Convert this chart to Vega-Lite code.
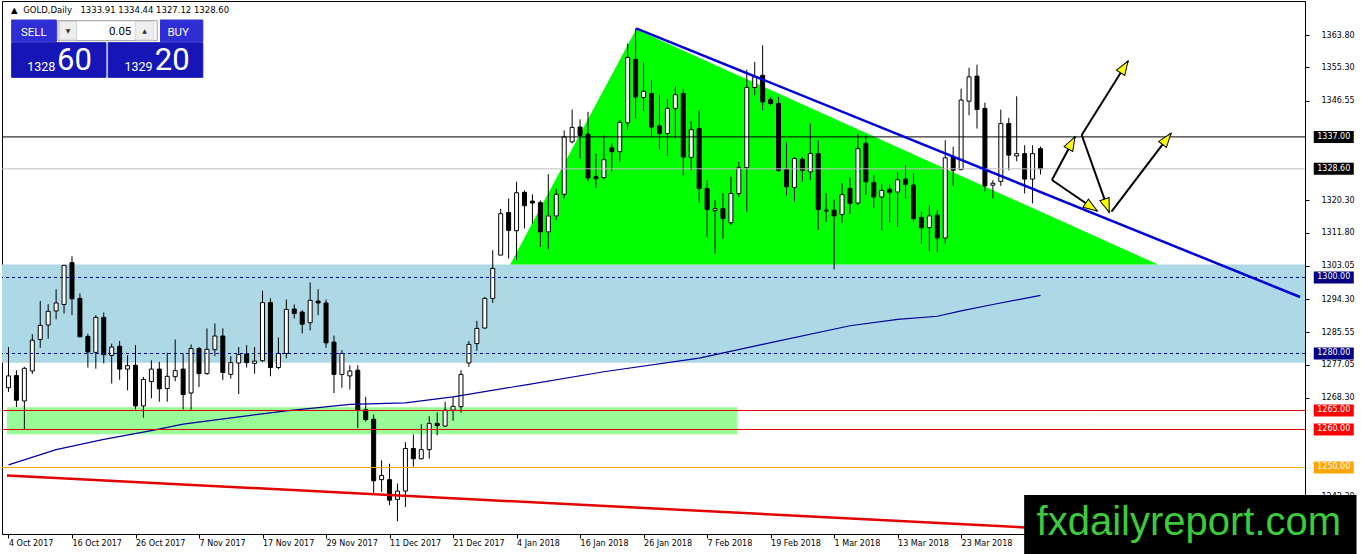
{
"$schema":"https://vega.github.io/schema/vega-lite/v6.json",
"width":1303,"height":533,
"autosize":"none",
"padding":{"left":2,"top":1,"right":57,"bottom":20},
"background":"white",
"config":{"view":{"stroke":"black","strokeWidth":1},"axis":{"domainColor":"black","tickColor":"black","labelColor":"black","labelFont":"DejaVu Sans","labelFontSize":8,"grid":false}},
"resolve":{"scale":{"color":"independent","stroke":"independent","strokeDash":"independent"}},
"datasets":{
"candles":[
{"bar":0,"open":1271.0,"high":1281.7,"low":1269.9,"close":1274.1},
{"bar":1,"open":1274.2,"high":1275.6,"low":1265.9,"close":1267.7},
{"bar":2,"open":1267.5,"high":1276.5,"low":1260.0,"close":1276.1},
{"bar":3,"open":1275.4,"high":1285.1,"low":1274.6,"close":1283.5},
{"bar":4,"open":1283.7,"high":1293.8,"low":1281.5,"close":1287.4},
{"bar":5,"open":1287.5,"high":1293.0,"low":1283.9,"close":1291.1},
{"bar":6,"open":1291.2,"high":1296.9,"low":1289.0,"close":1293.3},
{"bar":7,"open":1292.9,"high":1303.3,"low":1290.5,"close":1303.2},
{"bar":8,"open":1303.9,"high":1305.6,"low":1290.1,"close":1294.4},
{"bar":9,"open":1294.5,"high":1295.8,"low":1284.2,"close":1284.4},
{"bar":10,"open":1284.5,"high":1285.2,"low":1276.3,"close":1280.4},
{"bar":11,"open":1280.3,"high":1290.1,"low":1276.0,"close":1289.5},
{"bar":12,"open":1289.5,"high":1290.8,"low":1277.4,"close":1279.7},
{"bar":13,"open":1279.5,"high":1282.6,"low":1272.1,"close":1281.7},
{"bar":14,"open":1281.9,"high":1283.3,"low":1273.1,"close":1275.9},
{"bar":15,"open":1275.9,"high":1279.5,"low":1270.3,"close":1276.8},
{"bar":16,"open":1276.9,"high":1282.2,"low":1265.3,"close":1266.2},
{"bar":17,"open":1266.2,"high":1273.8,"low":1263.1,"close":1273.2},
{"bar":18,"open":1272.6,"high":1278.2,"low":1268.2,"close":1275.9},
{"bar":19,"open":1275.9,"high":1277.8,"low":1267.3,"close":1270.7},
{"bar":20,"open":1270.8,"high":1280.2,"low":1267.3,"close":1274.0},
{"bar":21,"open":1273.9,"high":1283.7,"low":1272.7,"close":1275.5},
{"bar":22,"open":1275.9,"high":1280.0,"low":1265.3,"close":1269.2},
{"bar":23,"open":1269.6,"high":1282.4,"low":1265.2,"close":1281.3},
{"bar":24,"open":1281.3,"high":1281.7,"low":1271.2,"close":1274.7},
{"bar":25,"open":1274.7,"high":1286.6,"low":1274.4,"close":1281.1},
{"bar":26,"open":1281.0,"high":1287.9,"low":1279.3,"close":1284.6},
{"bar":27,"open":1284.6,"high":1286.6,"low":1273.0,"close":1275.0},
{"bar":28,"open":1274.5,"high":1279.3,"low":1273.4,"close":1277.6},
{"bar":29,"open":1277.5,"high":1281.7,"low":1269.3,"close":1279.7},
{"bar":30,"open":1279.9,"high":1282.2,"low":1276.3,"close":1277.6},
{"bar":31,"open":1277.4,"high":1281.7,"low":1274.7,"close":1278.0},
{"bar":32,"open":1278.1,"high":1296.5,"low":1277.8,"close":1293.4},
{"bar":33,"open":1293.4,"high":1294.5,"low":1274.0,"close":1276.3},
{"bar":34,"open":1276.3,"high":1284.2,"low":1275.9,"close":1280.0},
{"bar":35,"open":1280.0,"high":1294.2,"low":1278.7,"close":1291.6},
{"bar":36,"open":1291.7,"high":1292.9,"low":1289.2,"close":1290.5},
{"bar":37,"open":1290.9,"high":1291.4,"low":1285.3,"close":1287.7},
{"bar":38,"open":1288.1,"high":1298.7,"low":1286.1,"close":1294.0},
{"bar":39,"open":1293.8,"high":1296.9,"low":1290.1,"close":1293.3},
{"bar":40,"open":1293.3,"high":1294.2,"low":1281.5,"close":1282.8},
{"bar":41,"open":1283.0,"high":1284.7,"low":1269.6,"close":1274.5},
{"bar":42,"open":1274.5,"high":1280.9,"low":1271.0,"close":1280.0},
{"bar":43,"open":1274.1,"high":1276.9,"low":1270.5,"close":1275.4},
{"bar":44,"open":1275.6,"high":1276.9,"low":1260.4,"close":1265.1},
{"bar":45,"open":1265.2,"high":1268.6,"low":1262.1,"close":1262.6},
{"bar":46,"open":1262.7,"high":1263.9,"low":1243.1,"close":1246.5},
{"bar":47,"open":1246.8,"high":1251.9,"low":1243.6,"close":1247.9},
{"bar":48,"open":1246.8,"high":1251.0,"low":1240.1,"close":1241.4},
{"bar":49,"open":1241.6,"high":1245.8,"low":1235.9,"close":1243.8},
{"bar":50,"open":1243.8,"high":1256.7,"low":1239.6,"close":1255.0},
{"bar":51,"open":1255.0,"high":1258.7,"low":1250.2,"close":1252.3},
{"bar":52,"open":1252.3,"high":1261.4,"low":1252.1,"close":1254.7},
{"bar":53,"open":1254.7,"high":1263.5,"low":1252.3,"close":1261.6},
{"bar":54,"open":1261.6,"high":1264.5,"low":1258.5,"close":1261.0},
{"bar":55,"open":1260.9,"high":1267.3,"low":1260.7,"close":1265.1},
{"bar":56,"open":1265.1,"high":1268.6,"low":1262.3,"close":1266.1},
{"bar":57,"open":1266.0,"high":1275.6,"low":1264.4,"close":1274.5},
{"bar":58,"open":1277.5,"high":1283.3,"low":1276.5,"close":1282.4},
{"bar":59,"open":1282.6,"high":1288.6,"low":1280.7,"close":1286.6},
{"bar":60,"open":1286.7,"high":1294.9,"low":1286.6,"close":1294.5},
{"bar":61,"open":1294.5,"high":1307.2,"low":1293.3,"close":1302.4},
{"bar":62,"open":1305.9,"high":1318.1,"low":1305.9,"close":1316.8},
{"bar":63,"open":1317.1,"high":1320.8,"low":1305.0,"close":1312.4},
{"bar":64,"open":1312.3,"high":1325.2,"low":1304.6,"close":1322.3},
{"bar":65,"open":1322.4,"high":1322.9,"low":1312.9,"close":1318.9},
{"bar":66,"open":1320.1,"high":1321.9,"low":1314.2,"close":1319.6},
{"bar":67,"open":1319.7,"high":1320.3,"low":1308.1,"close":1312.0},
{"bar":68,"open":1312.0,"high":1327.2,"low":1307.4,"close":1316.2},
{"bar":69,"open":1316.2,"high":1323.4,"low":1315.1,"close":1321.9},
{"bar":70,"open":1321.9,"high":1338.7,"low":1320.8,"close":1337.0},
{"bar":71,"open":1335.7,"high":1344.2,"low":1335.3,"close":1339.5},
{"bar":72,"open":1339.6,"high":1341.6,"low":1331.3,"close":1337.4},
{"bar":73,"open":1337.7,"high":1343.6,"low":1325.3,"close":1326.2},
{"bar":74,"open":1326.5,"high":1332.6,"low":1323.6,"close":1326.0},
{"bar":75,"open":1326.3,"high":1337.4,"low":1325.8,"close":1331.0},
{"bar":76,"open":1334.1,"high":1335.3,"low":1327.8,"close":1333.1},
{"bar":77,"open":1333.1,"high":1341.4,"low":1330.4,"close":1340.8},
{"bar":78,"open":1340.7,"high":1361.6,"low":1338.8,"close":1357.9},
{"bar":79,"open":1357.4,"high":1365.5,"low":1341.8,"close":1347.5},
{"bar":80,"open":1347.4,"high":1356.7,"low":1343.9,"close":1349.0},
{"bar":81,"open":1348.4,"high":1351.9,"low":1337.0,"close":1339.6},
{"bar":82,"open":1339.9,"high":1348.2,"low":1333.7,"close":1337.9},
{"bar":83,"open":1337.9,"high":1346.9,"low":1332.0,"close":1344.5},
{"bar":84,"open":1344.5,"high":1350.3,"low":1336.6,"close":1348.1},
{"bar":85,"open":1348.4,"high":1349.5,"low":1326.9,"close":1331.7},
{"bar":86,"open":1331.6,"high":1341.1,"low":1328.2,"close":1338.9},
{"bar":87,"open":1339.2,"high":1344.0,"low":1319.7,"close":1323.4},
{"bar":88,"open":1323.4,"high":1325.6,"low":1310.7,"close":1317.9},
{"bar":89,"open":1317.6,"high":1320.3,"low":1306.3,"close":1318.1},
{"bar":90,"open":1318.1,"high":1322.1,"low":1310.2,"close":1315.5},
{"bar":91,"open":1314.4,"high":1326.5,"low":1313.8,"close":1322.1},
{"bar":92,"open":1322.1,"high":1330.4,"low":1321.2,"close":1328.9},
{"bar":93,"open":1328.9,"high":1354.7,"low":1317.3,"close":1350.0},
{"bar":94,"open":1350.0,"high":1356.7,"low":1348.0,"close":1352.8},
{"bar":95,"open":1353.2,"high":1361.1,"low":1344.0,"close":1346.2},
{"bar":96,"open":1346.8,"high":1347.5,"low":1345.2,"close":1345.8},
{"bar":97,"open":1345.8,"high":1347.5,"low":1327.8,"close":1328.2},
{"bar":98,"open":1328.4,"high":1335.7,"low":1321.6,"close":1323.9},
{"bar":99,"open":1323.7,"high":1331.7,"low":1319.9,"close":1331.3},
{"bar":100,"open":1331.1,"high":1331.7,"low":1325.2,"close":1328.2},
{"bar":101,"open":1327.8,"high":1340.5,"low":1325.6,"close":1332.6},
{"bar":102,"open":1332.6,"high":1336.1,"low":1312.6,"close":1317.9},
{"bar":103,"open":1317.7,"high":1322.1,"low":1314.6,"close":1317.5},
{"bar":104,"open":1317.7,"high":1320.5,"low":1302.1,"close":1316.2},
{"bar":105,"open":1316.6,"high":1324.9,"low":1314.4,"close":1321.8},
{"bar":106,"open":1323.4,"high":1326.3,"low":1316.8,"close":1319.5},
{"bar":107,"open":1319.6,"high":1337.9,"low":1319.0,"close":1333.9},
{"bar":108,"open":1335.3,"high":1337.4,"low":1321.7,"close":1325.2},
{"bar":109,"open":1325.0,"high":1326.9,"low":1318.3,"close":1321.2},
{"bar":110,"open":1321.2,"high":1324.5,"low":1312.4,"close":1322.9},
{"bar":111,"open":1323.2,"high":1324.5,"low":1314.5,"close":1322.4},
{"bar":112,"open":1322.5,"high":1327.8,"low":1313.3,"close":1325.7},
{"bar":113,"open":1325.9,"high":1329.6,"low":1320.8,"close":1324.5},
{"bar":114,"open":1324.3,"high":1327.4,"low":1314.6,"close":1315.5},
{"bar":115,"open":1315.8,"high":1317.3,"low":1308.9,"close":1313.1},
{"bar":116,"open":1313.1,"high":1319.0,"low":1306.9,"close":1316.2},
{"bar":117,"open":1316.4,"high":1317.7,"low":1306.6,"close":1310.4},
{"bar":118,"open":1310.4,"high":1336.1,"low":1308.9,"close":1331.5},
{"bar":119,"open":1331.7,"high":1334.4,"low":1324.1,"close":1328.2},
{"bar":120,"open":1328.4,"high":1349.7,"low":1328.2,"close":1346.7},
{"bar":121,"open":1346.4,"high":1355.2,"low":1342.7,"close":1352.8},
{"bar":122,"open":1353.0,"high":1356.0,"low":1339.2,"close":1344.2},
{"bar":123,"open":1344.5,"high":1346.0,"low":1322.7,"close":1324.1},
{"bar":124,"open":1324.3,"high":1325.6,"low":1320.8,"close":1324.8},
{"bar":125,"open":1325.3,"high":1344.2,"low":1324.1,"close":1340.5},
{"bar":126,"open":1340.5,"high":1342.0,"low":1328.2,"close":1332.2},
{"bar":127,"open":1332.0,"high":1347.7,"low":1330.6,"close":1332.6},
{"bar":128,"open":1332.6,"high":1334.8,"low":1322.1,"close":1325.9},
{"bar":129,"open":1325.9,"high":1334.8,"low":1319.5,"close":1332.6},
{"bar":130,"open":1333.91,"high":1334.44,"low":1327.12,"close":1328.60}
],
"ma":[{"bar":0,"ma":1250.7},{"bar":6,"ma":1254.7},{"bar":12,"ma":1257.4},{"bar":18,"ma":1259.7},{"bar":22,"ma":1261.4},{"bar":30,"ma":1263.6},{"bar":35,"ma":1264.9},{"bar":43,"ma":1266.6},{"bar":50,"ma":1267.0},{"bar":56,"ma":1268.6},{"bar":65,"ma":1271.7},{"bar":75,"ma":1275.2},{"bar":87,"ma":1278.8},{"bar":95,"ma":1282.4},{"bar":106,"ma":1287.3},{"bar":112,"ma":1289.0},{"bar":117,"ma":1289.8},{"bar":120,"ma":1291.2},{"bar":124,"ma":1292.9},{"bar":130,"ma":1295.3}],
"triangle":[{"bar":63.19,"price":1303.42,"base":1303.42},{"bar":79.06,"price":1365.32,"base":1303.42},{"bar":144.81,"price":1303.42,"base":1303.42}],
"blue_zone":[{"top":1303.42,"bottom":1277.58}],
"green_zone":[{"from_bar":-0.1875,"to_bar":91.81,"top":1265.84,"bottom":1258.74}],
"levels":[{"price":1337.0,"kind":"target"},{"price":1328.6,"kind":"bid"},{"price":1300.0,"kind":"zone"},{"price":1280.0,"kind":"zone"},{"price":1265.0,"kind":"support"},{"price":1260.0,"kind":"support"},{"price":1250.0,"kind":"round"}],
"trend_blue":[{"bar":79.06,"price":1365.58},{"bar":162.69,"price":1294.87}],
"trend_red":[{"bar":-0.1875,"price":1247.9},{"bar":144.31,"price":1232.5}],
"arrows":[
{"arrow":"A","from_bar":131.44,"from_price":1325.66,"to_bar":134.35,"to_price":1337.05},
{"arrow":"B","from_bar":131.44,"from_price":1325.66,"to_bar":137.15,"to_price":1317.5},
{"arrow":"C","from_bar":135.19,"from_price":1337.5,"to_bar":141.03,"to_price":1356.97},
{"arrow":"D","from_bar":135.19,"from_price":1337.5,"to_bar":138.65,"to_price":1317.16},
{"arrow":"E","from_bar":138.94,"from_price":1317.32,"to_bar":146.44,"to_price":1337.95}
],
"watermark":[{"label":"fxdailyreport.com","from_bar":127.94,"to_bar":169.81,"top":1242.76,"bottom":1227.24,"bar":148.69,"price":1232.24}],
"panel":[
{"part":"sell","x1":0.40,"x2":6.03,"top":1367.76,"bottom":1362.05},
{"part":"buy","x1":19.15,"x2":24.48,"top":1367.76,"bottom":1362.05},
{"part":"spin","x1":6.23,"x2":18.73,"top":1367.58,"bottom":1362.32},
{"part":"spinbtn","x1":6.44,"x2":8.56,"top":1367.37,"bottom":1362.5},
{"part":"spinbtn","x1":15.94,"x2":18.31,"top":1367.37,"bottom":1362.5},
{"part":"bid","x1":0.40,"x2":12.28,"top":1361.79,"bottom":1352.68},
{"part":"ask","x1":12.56,"x2":24.48,"top":1361.79,"bottom":1352.68}
],
"widget_text":[
{"label":"SELL","bar":3.19,"price":1363.63,"role":"button"},
{"label":"BUY","bar":21.38,"price":1363.63,"role":"button"},
{"label":"0.05","bar":14.06,"price":1363.7,"role":"lot"},
{"label":"▼","bar":7.5,"price":1364.24,"role":"spin"},
{"label":"▲","bar":17.13,"price":1364.24,"role":"spin"},
{"label":"1328","bar":4.13,"price":1354.42,"role":"small"},
{"label":"60","bar":8.31,"price":1354.6,"role":"big"},
{"label":"1329","bar":16.38,"price":1354.42,"role":"small"},
{"label":"20","bar":20.63,"price":1354.6,"role":"big"}
],
"header":[{"label":"▲","bar":0.31,"price":1369.68},{"label":"GOLD,Daily","bar":1.85,"price":1369.68},{"label":"1333.91 1334.44 1327.12 1328.60","bar":9.06,"price":1369.68}]
},
"layer":[
{"data":{"name":"blue_zone"},"mark":{"type":"rect","color":"#ADD8E6"},
 "encoding":{"y":{"field":"top","type":"quantitative","scale":{"domain":[1232.5,1372.763],"nice":false,"zero":false}},"y2":{"field":"bottom"}}},
{"data":{"name":"green_zone"},"mark":{"type":"rect","color":"#98FB98","clip":true},
 "encoding":{"x":{"field":"from_bar","type":"quantitative","scale":{"domain":[-0.1875,162.6875],"nice":false,"zero":false}},"x2":{"field":"to_bar"},"y":{"field":"top","type":"quantitative"},"y2":{"field":"bottom"}}},
{"data":{"name":"triangle"},"mark":{"type":"area","color":"#00FF00","opacity":1},
 "encoding":{"x":{"field":"bar","type":"quantitative"},"y":{"field":"price","type":"quantitative"},"y2":{"field":"base"}}},
{"data":{"name":"candles"},"mark":{"type":"rule","color":"black","strokeWidth":1},
 "encoding":{
  "x":{"field":"bar","type":"quantitative","scale":{"domain":[-0.1875,162.6875],"nice":false,"zero":false},
   "axis":{"orient":"bottom","title":null,"values":[0,8,16,24,32,40,48,56,64,72,80,88,96,104,112,120],
    "labelExpr":"['4 Oct 2017','16 Oct 2017','26 Oct 2017','7 Nov 2017','17 Nov 2017','29 Nov 2017','11 Dec 2017','21 Dec 2017','4 Jan 2018','16 Jan 2018','26 Jan 2018','7 Feb 2018','19 Feb 2018','1 Mar 2018','13 Mar 2018','23 Mar 2018'][round(datum.value/8)]",
    "labelAlign":"left","labelBaseline":"top","labelPadding":1,"tickSize":4,"labelFlush":false,"labelOverlap":false,"labelBound":false,"domain":true,"ticks":true,"labels":true}},
  "y":{"field":"low","type":"quantitative","scale":{"domain":[1232.5,1372.763],"nice":false,"zero":false},
   "axis":{"orient":"right","title":null,"values":[1363.8,1355.3,1346.55,1320.3,1311.8,1303.05,1294.3,1285.55,1277.05,1268.3,1242.3],"format":".2f","tickSize":4,"labelPadding":12,"labelAlign":"left","labelBaseline":"middle","labelFlush":false,"labelOverlap":false,"domain":true,"ticks":true,"labels":true}},
  "y2":{"field":"high"}}},
{"data":{"name":"candles"},"mark":{"type":"bar","size":4,"stroke":"black","strokeWidth":1,"opacity":1},
 "encoding":{"x":{"field":"bar","type":"quantitative"},"y":{"field":"open","type":"quantitative"},"y2":{"field":"close"},
  "fill":{"condition":{"test":"datum.close >= datum.open","value":"white"},"value":"black"}}},
{"data":{"name":"ma"},"mark":{"type":"line","color":"#00009C","strokeWidth":1.2,"clip":true},
 "encoding":{"x":{"field":"bar","type":"quantitative"},"y":{"field":"ma","type":"quantitative"}}},
{"data":{"name":"levels"},"mark":{"type":"rule","strokeWidth":1},
 "encoding":{"y":{"field":"price","type":"quantitative"},
  "stroke":{"field":"kind","type":"nominal","legend":null,"scale":{"domain":["target","bid","zone","support","round"],"range":["#000000","#C0C0C0","#000080","#E00000","#FFA500"]}},
  "strokeDash":{"field":"kind","type":"nominal","legend":null,"scale":{"domain":["target","bid","zone","support","round"],"range":[[1,0],[1,0],[3,3],[1,0],[1,0]]}}}},
{"data":{"name":"trend_red"},"mark":{"type":"line","color":"#E50000","strokeWidth":2.5,"clip":true},
 "encoding":{"x":{"field":"bar","type":"quantitative"},"y":{"field":"price","type":"quantitative"}}},
{"data":{"name":"trend_blue"},"mark":{"type":"line","color":"#0000D8","strokeWidth":2.5,"clip":true},
 "encoding":{"x":{"field":"bar","type":"quantitative"},"y":{"field":"price","type":"quantitative"}}},
{"data":{"name":"arrows"},"mark":{"type":"rule","color":"black","strokeWidth":2},
 "encoding":{"x":{"field":"from_bar","type":"quantitative"},"y":{"field":"from_price","type":"quantitative"},"x2":{"field":"to_bar"},"y2":{"field":"to_price"}}},
{"data":{"name":"arrows"},"transform":[{"filter":{"field":"arrow","equal":"A"}}],"mark":{"type":"point","shape":"M0,0L0.7,2L-0.7,2Z","size":196,"filled":true,"fill":"#FFFF00","stroke":"black","strokeWidth":1,"opacity":1,"angle":28.3},
 "encoding":{"x":{"field":"to_bar","type":"quantitative"},"y":{"field":"to_price","type":"quantitative"}}},
{"data":{"name":"arrows"},"transform":[{"filter":{"field":"arrow","equal":"B"}}],"mark":{"type":"point","shape":"M0,0L0.7,2L-0.7,2Z","size":196,"filled":true,"fill":"#FFFF00","stroke":"black","strokeWidth":1,"opacity":1,"angle":124.2},
 "encoding":{"x":{"field":"to_bar","type":"quantitative"},"y":{"field":"to_price","type":"quantitative"}}},
{"data":{"name":"arrows"},"transform":[{"filter":{"field":"arrow","equal":"C"}}],"mark":{"type":"point","shape":"M0,0L0.7,2L-0.7,2Z","size":196,"filled":true,"fill":"#FFFF00","stroke":"black","strokeWidth":1,"opacity":1,"angle":32.3},
 "encoding":{"x":{"field":"to_bar","type":"quantitative"},"y":{"field":"to_price","type":"quantitative"}}},
{"data":{"name":"arrows"},"transform":[{"filter":{"field":"arrow","equal":"D"}}],"mark":{"type":"point","shape":"M0,0L0.7,2L-0.7,2Z","size":196,"filled":true,"fill":"#FFFF00","stroke":"black","strokeWidth":1,"opacity":1,"angle":160.3},
 "encoding":{"x":{"field":"to_bar","type":"quantitative"},"y":{"field":"to_price","type":"quantitative"}}},
{"data":{"name":"arrows"},"transform":[{"filter":{"field":"arrow","equal":"E"}}],"mark":{"type":"point","shape":"M0,0L0.7,2L-0.7,2Z","size":196,"filled":true,"fill":"#FFFF00","stroke":"black","strokeWidth":1,"opacity":1,"angle":37.4},
 "encoding":{"x":{"field":"to_bar","type":"quantitative"},"y":{"field":"to_price","type":"quantitative"}}},
{"data":{"name":"levels"},"mark":{"type":"tick","orient":"horizontal","size":40,"thickness":12,"opacity":1},
 "encoding":{"x":{"datum":166.94,"type":"quantitative"},"y":{"field":"price","type":"quantitative"},
  "color":{"field":"kind","type":"nominal","legend":null,"scale":{"domain":["target","bid","zone","support","round"],"range":["#000000","#000000","#000080","#FF0000","#FFA500"]}}}},
{"data":{"name":"levels"},"mark":{"type":"text","color":"white","font":"DejaVu Sans","fontSize":8,"align":"center","baseline":"middle"},
 "encoding":{"x":{"datum":166.94,"type":"quantitative"},"y":{"field":"price","type":"quantitative"},"text":{"field":"price","type":"quantitative","format":".2f"}}},
{"data":{"name":"watermark"},"mark":{"type":"rect","color":"black"},
 "encoding":{"x":{"field":"from_bar","type":"quantitative"},"x2":{"field":"to_bar"},"y":{"field":"top","type":"quantitative"},"y2":{"field":"bottom"}}},
{"data":{"name":"watermark"},"mark":{"type":"text","color":"#3CCB3C","font":"Liberation Sans","fontSize":40,"align":"center","baseline":"alphabetic"},
 "encoding":{"x":{"field":"bar","type":"quantitative"},"y":{"field":"price","type":"quantitative"},"text":{"field":"label"}}},
{"data":{"name":"panel"},"mark":{"type":"rect","strokeWidth":1},
 "encoding":{"x":{"field":"x1","type":"quantitative"},"x2":{"field":"x2"},"y":{"field":"top","type":"quantitative"},"y2":{"field":"bottom"},
  "color":{"field":"part","type":"nominal","legend":null,"scale":{"domain":["sell","buy","spin","spinbtn","bid","ask"],"range":["#2E2ED4","#2E2ED4","#FFFFFF","#EEEEEE","#1616B6","#1616B6"]}},
  "stroke":{"field":"part","type":"nominal","legend":null,"scale":{"domain":["sell","buy","spin","spinbtn","bid","ask"],"range":["#2E2ED4","#2E2ED4","#9C9C9C","#D4D4D4","#1616B6","#1616B6"]}}}},
{"data":{"name":"widget_text"},"transform":[{"filter":{"field":"role","equal":"button"}}],"mark":{"type":"text","color":"white","font":"Roboto","fontSize":11.5,"align":"center","baseline":"alphabetic"},
 "encoding":{"x":{"field":"bar","type":"quantitative"},"y":{"field":"price","type":"quantitative"},"text":{"field":"label"}}},
{"data":{"name":"widget_text"},"transform":[{"filter":{"field":"role","equal":"lot"}}],"mark":{"type":"text","color":"black","font":"Roboto","fontSize":11.5,"align":"center","baseline":"alphabetic"},
 "encoding":{"x":{"field":"bar","type":"quantitative"},"y":{"field":"price","type":"quantitative"},"text":{"field":"label"}}},
{"data":{"name":"widget_text"},"transform":[{"filter":{"field":"role","equal":"spin"}}],"mark":{"type":"text","color":"#303030","font":"DejaVu Sans","fontSize":6,"align":"center","baseline":"alphabetic"},
 "encoding":{"x":{"field":"bar","type":"quantitative"},"y":{"field":"price","type":"quantitative"},"text":{"field":"label"}}},
{"data":{"name":"widget_text"},"transform":[{"filter":{"field":"role","equal":"small"}}],"mark":{"type":"text","color":"white","font":"Roboto","fontSize":12.5,"align":"center","baseline":"alphabetic"},
 "encoding":{"x":{"field":"bar","type":"quantitative"},"y":{"field":"price","type":"quantitative"},"text":{"field":"label"}}},
{"data":{"name":"widget_text"},"transform":[{"filter":{"field":"role","equal":"big"}}],"mark":{"type":"text","color":"white","font":"Roboto","fontSize":31,"align":"center","baseline":"alphabetic"},
 "encoding":{"x":{"field":"bar","type":"quantitative"},"y":{"field":"price","type":"quantitative"},"text":{"field":"label"}}},
{"data":{"name":"header"},"mark":{"type":"text","color":"black","font":"DejaVu Sans","fontSize":8.5,"align":"left","baseline":"alphabetic"},
 "encoding":{"x":{"field":"bar","type":"quantitative"},"y":{"field":"price","type":"quantitative"},"text":{"field":"label"}}}
]
}
